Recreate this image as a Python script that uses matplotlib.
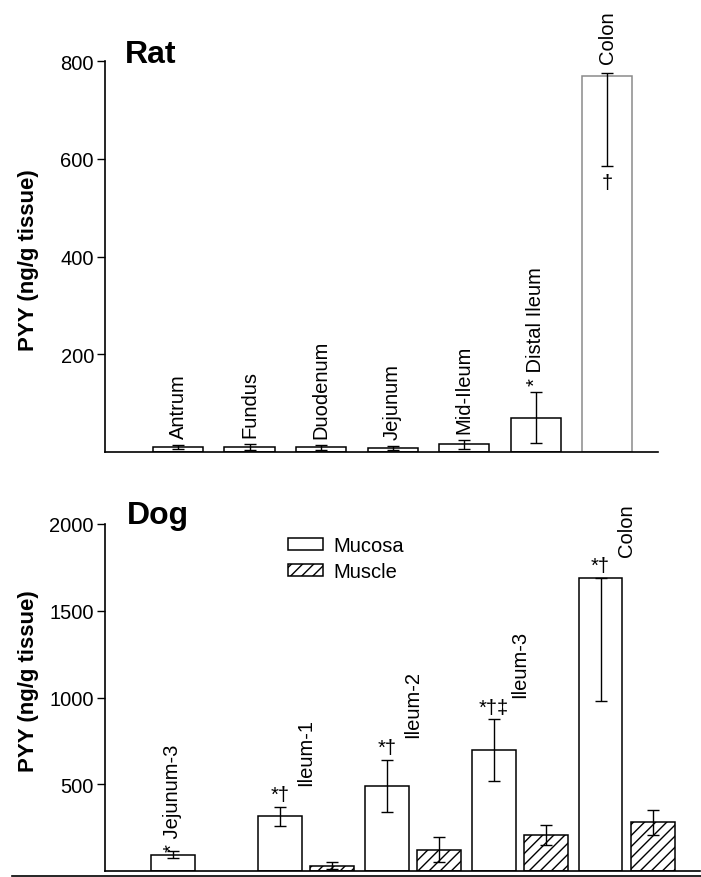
import matplotlib
matplotlib.use("Agg")
import matplotlib.pyplot as plt
from matplotlib.lines import Line2D
from matplotlib.patches import Patch

plt.rcParams['font.family'] = ['Liberation Sans', 'DejaVu Sans']
plt.rcParams['hatch.linewidth'] = 1.0

# Rat tissue PYY (mucosa only)
rat_sites = ["Antrum", "Fundus", "Duodenum", "Jejunum", "Mid-Ileum", "* Distal Ileum", "Colon"]
rat_values = [10, 10, 10, 9, 16, 70, 769]
rat_err_low = [4, 6, 5, 4, 9, 52, 183]
rat_err_high = [4, 6, 5, 4, 9, 52, 6]

# Dog tissue PYY (mucosa and muscle)
dog_sites = ["* Jejunum-3", "Ileum-1", "Ileum-2", "Ileum-3", "Colon"]
dog_marks = ["", "*\u2020", "*\u2020", "*\u2020\u2021", "*\u2020"]
dog_mucosa = [94, 315, 492, 697, 1689]
dog_mucosa_err_low = [20, 53, 150, 177, 707]
dog_mucosa_err_high = [20, 53, 150, 177, 0]
dog_muscle = [None, 31, 123, 209, 281]
dog_muscle_err = [None, 18, 72, 58, 71]

W, H = 701, 878
fig = plt.figure(figsize=(W / 100, H / 100), dpi=100)

def fx(px):
    return px / W

def fy(py):
    return 1 - py / H

FS = 14.5

# ---- Rat panel ----
ax1 = fig.add_axes([fx(105), fy(453), fx(658) - fx(105), fy(62) - fy(453)])
xs = list(range(len(rat_sites)))
edge = ["black"] * (len(rat_sites) - 1) + ["#8a8a8a"]
ax1.bar(xs, rat_values, width=0.7, color="white", edgecolor=edge, linewidth=1.1)
ax1.errorbar(xs, rat_values, yerr=[rat_err_low, rat_err_high], fmt="none",
             ecolor="black", elinewidth=1.0, capsize=4, capthick=1.0)
for i, name in enumerate(rat_sites):
    top = rat_values[i] + rat_err_high[i]
    pad = 7 if name == "Colon" else 5
    ax1.annotate(name, (i, top), xytext=(0, pad), textcoords="offset points",
                 rotation=90, ha="center", va="bottom", fontsize=FS,
                 annotation_clip=False)
# dagger under the colon error bar
ax1.annotate("\u2020", (6, rat_values[6] - rat_err_low[6]), xytext=(0, -5),
             textcoords="offset points", ha="center", va="top", fontsize=FS)

ax1.set_xlim(-1.02, 6.71)
ax1.set_ylim(0, 800)
ax1.set_yticks([200, 400, 600, 800])
ax1.set_xticks([])
for s in ["top", "right"]:
    ax1.spines[s].set_visible(False)
for s in ["left", "bottom"]:
    ax1.spines[s].set_linewidth(1.2)
ax1.tick_params(axis="y", length=6, width=1.0, labelsize=FS, pad=2)
fig.text(fx(125), fy(63), "Rat", fontsize=23, fontweight="bold", va="baseline")
fig.text(fx(29), fy(260), "PYY (ng/g tissue)", rotation=90, fontsize=16,
         fontweight="bold", ha="center", va="center")

# ---- Dog panel ----
ax2 = fig.add_axes([fx(105), fy(872), fx(700) - fx(105), fy(525) - fy(872)])
gx = list(range(len(dog_sites)))
shift = 0.49
ax2.bar(gx, dog_mucosa, width=0.41, color="white", edgecolor="black", linewidth=1.1)
ax2.errorbar(gx, dog_mucosa, yerr=[dog_mucosa_err_low, dog_mucosa_err_high],
             fmt="none", ecolor="black", elinewidth=1.0, capsize=4, capthick=1.0)

mx = [g + shift for g, v in zip(gx, dog_muscle) if v is not None]
mv = [v for v in dog_muscle if v is not None]
me = [e for e in dog_muscle_err if e is not None]
ax2.bar(mx, mv, width=0.41, color="white", edgecolor="black", linewidth=1.1, hatch="///")
ax2.errorbar(mx, mv, yerr=me, fmt="none", ecolor="black", elinewidth=1.0,
             capsize=4, capthick=1.0)

for i, name in enumerate(dog_sites):
    top = dog_mucosa[i] + dog_mucosa_err_high[i]
    if dog_marks[i]:
        ax2.annotate(dog_marks[i], (i, top), xytext=(0, 2), textcoords="offset points",
                     ha="center", va="bottom", fontsize=FS)
        ax2.annotate(name, (i, top), xytext=(18.5, 16), textcoords="offset points",
                     rotation=90, ha="center", va="bottom", fontsize=FS,
                     annotation_clip=False)
    else:
        ax2.annotate(name, (i, top), xytext=(0, 0), textcoords="offset points",
                     rotation=90, ha="center", va="bottom", fontsize=FS)

ax2.set_xlim(-0.636, 4.93)
ax2.set_ylim(0, 2000)
ax2.set_yticks([500, 1000, 1500, 2000])
ax2.set_xticks([])
for s in ["top", "right"]:
    ax2.spines[s].set_visible(False)
for s in ["left", "bottom"]:
    ax2.spines[s].set_linewidth(1.2)
ax2.tick_params(axis="y", length=6, width=1.0, labelsize=FS, pad=2)
fig.text(fx(127), fy(524), "Dog", fontsize=23, fontweight="bold", va="baseline")
fig.text(fx(29), fy(681), "PYY (ng/g tissue)", rotation=90, fontsize=16,
         fontweight="bold", ha="center", va="center")

handles = [Patch(facecolor="white", edgecolor="black", linewidth=1.1),
           Patch(facecolor="white", edgecolor="black", linewidth=1.1, hatch="///")]
fig.legend(handles, ["Mucosa", "Muscle"], loc="upper left",
           bbox_to_anchor=(fx(288), fy(537)), frameon=False, fontsize=FS,
           handlelength=1.75, handleheight=0.55, handletextpad=0.5,
           labelspacing=0.35, borderpad=0, borderaxespad=0)

# page rule at the bottom edge
fig.add_artist(Line2D([fx(12), 1.0], [fy(877), fy(877)], color="black", linewidth=1.2))

fig.savefig("out.png", dpi=100)
